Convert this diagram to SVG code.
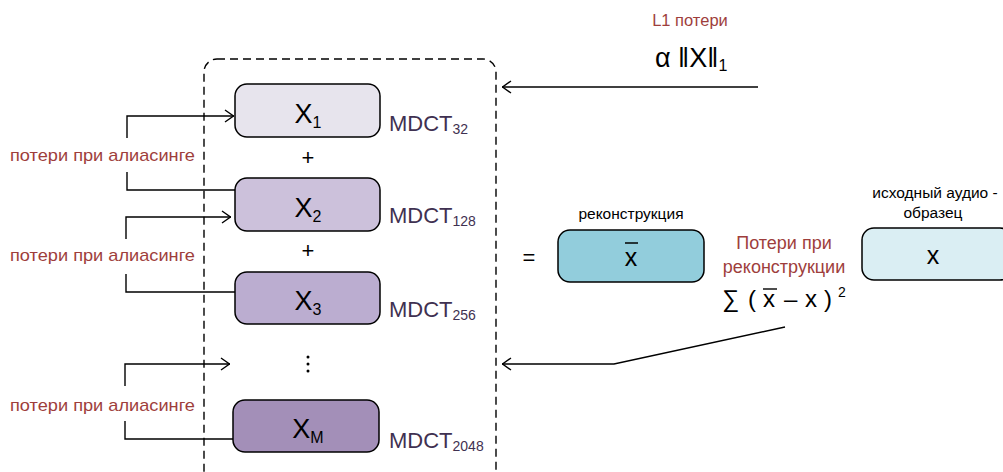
<svg xmlns="http://www.w3.org/2000/svg" width="1003" height="472" viewBox="0 0 1003 472">
<style>
text{font-family:"Liberation Sans",Arial,sans-serif;}
.box{stroke:#000;stroke-width:1.5;}
.big{font-size:27px;fill:#000;text-anchor:middle;}
.sub{font-size:16px;}
.mdct{font-size:22px;fill:#3F3151;}
.msub{font-size:14px;}
.red{fill:#9E3E3C;font-size:17px;}
.red2{fill:#9E3E3C;font-size:18px;text-anchor:middle;}
.blk{fill:#000;}
.ln{fill:none;stroke:#000;stroke-width:1.4;}
.arr{fill:none;stroke:#000;stroke-width:1.4;marker-end:url(#ah);}
.sm{font-size:15.5px;fill:#000;text-anchor:middle;}
</style>
<defs>
<marker id="ah" viewBox="0 0 10 14" refX="10" refY="7" markerWidth="10" markerHeight="14" markerUnits="userSpaceOnUse" orient="auto">
<path d="M1,1 L9.5,7 L1,13" fill="none" stroke="#000" stroke-width="1.4"/>
</marker>
</defs>
<rect width="1003" height="472" fill="#fff"/>
<g id="group-frame">
<rect x="204" y="59" width="292" height="430" rx="13" fill="none" stroke="#000" stroke-width="1.4" stroke-dasharray="8,5"/>
</g>
<g id="connectors">
<polyline class="arr" points="127,138 127,116 234,116"/>
<polyline class="ln" points="127,172 127,190 235,190"/>
<polyline class="arr" points="126,239 126,217 231,217"/>
<polyline class="ln" points="126,274 126,292 235,292"/>
<polyline class="arr" points="125,386 125,364 230,364"/>
<polyline class="ln" points="125,421 125,439 233,439"/>
<line class="arr" x1="758" y1="87" x2="502" y2="87"/>
<polyline class="arr" points="785,327 614,364 502,364"/>
</g>
<g id="node-x1">
<rect class="box" x="235" y="84" width="145" height="53" rx="12" fill="#E7E4ED"/>
<text class="big" x="308" y="123">X<tspan class="sub" dy="5">1</tspan></text>
<text class="mdct" x="389" y="131">MDCT<tspan class="msub" dy="3">32</tspan></text>
</g>
<g id="node-x2">
<rect class="box" x="235" y="178" width="145" height="53" rx="12" fill="#CCC1DB"/>
<text class="big" x="308" y="217">X<tspan class="sub" dy="5">2</tspan></text>
<text class="mdct" x="389" y="223">MDCT<tspan class="msub" dy="3">128</tspan></text>
</g>
<g id="node-x3">
<rect class="box" x="235" y="272" width="145" height="52" rx="12" fill="#BBADD0"/>
<text class="big" x="308" y="310">X<tspan class="sub" dy="5">3</tspan></text>
<text class="mdct" x="389" y="317">MDCT<tspan class="msub" dy="3">256</tspan></text>
</g>
<g id="node-xm">
<rect class="box" x="233" y="400" width="146" height="52" rx="12" fill="#A38FB8"/>
<text class="big" x="308" y="438">X<tspan class="sub" dy="5">M</tspan></text>
<text class="mdct" x="389" y="448">MDCT<tspan class="msub" dy="3">2048</tspan></text>
</g>
<g id="operators">
<text class="blk" x="308" y="165" font-size="22" text-anchor="middle">+</text>
<text class="blk" x="308" y="258" font-size="22" text-anchor="middle">+</text>
<circle cx="308" cy="357" r="1.5" fill="#000"/>
<circle cx="308" cy="364" r="1.5" fill="#000"/>
<circle cx="308" cy="371" r="1.5" fill="#000"/>
<text class="blk" x="529" y="265" font-size="22" text-anchor="middle">=</text>
</g>
<g id="labels-aliasing">
<text class="red" x="10" y="161" textLength="185" lengthAdjust="spacingAndGlyphs">потери при алиасинге</text>
<text class="red" x="10" y="261" textLength="185" lengthAdjust="spacingAndGlyphs">потери при алиасинге</text>
<text class="red" x="10" y="411" textLength="185" lengthAdjust="spacingAndGlyphs">потери при алиасинге</text>
</g>
<g id="label-l1">
<text x="690" y="26" text-anchor="middle" style="fill:#9E3E3C;font-size:16.5px">L1  потери</text>
<text class="blk" x="655" y="67" font-size="27">α ‖X‖<tspan font-size="16" dy="4">1</tspan></text>
</g>
<g id="node-recon">
<text class="sm" x="631" y="219">реконструкция</text>
<rect class="box" x="558" y="230" width="146" height="52" rx="12" fill="#92CDDC"/>
<text class="big" x="631" y="266" style="font-size:25px">x</text>
<line x1="625" y1="243" x2="638" y2="243" stroke="#000" stroke-width="1.5"/>
</g>
<g id="label-recon-loss">
<text class="red2" x="784" y="249">Потери при</text>
<text class="red2" x="784" y="273">реконструкции</text>
<text class="blk" x="722" y="307" font-size="24">∑</text>
<text class="blk" x="748" y="307" font-size="24">(</text>
<text class="blk" x="763" y="307" font-size="24">x</text>
<line x1="763" y1="289" x2="777" y2="289" stroke="#000" stroke-width="1.4"/>
<text class="blk" x="784" y="307" font-size="24">–</text>
<text class="blk" x="805" y="307" font-size="24">x</text>
<text class="blk" x="824" y="307" font-size="24">)</text>
<text class="blk" x="838" y="297" font-size="14">2</text>
</g>
<g id="node-original">
<text class="sm" x="935" y="198">исходный аудио -</text>
<text class="sm" x="933" y="218">образец</text>
<rect class="box" x="862" y="228" width="150" height="52" rx="12" fill="#DAEEF3"/>
<text class="big" x="933" y="264" style="font-size:25px">x</text>
</g>
</svg>
